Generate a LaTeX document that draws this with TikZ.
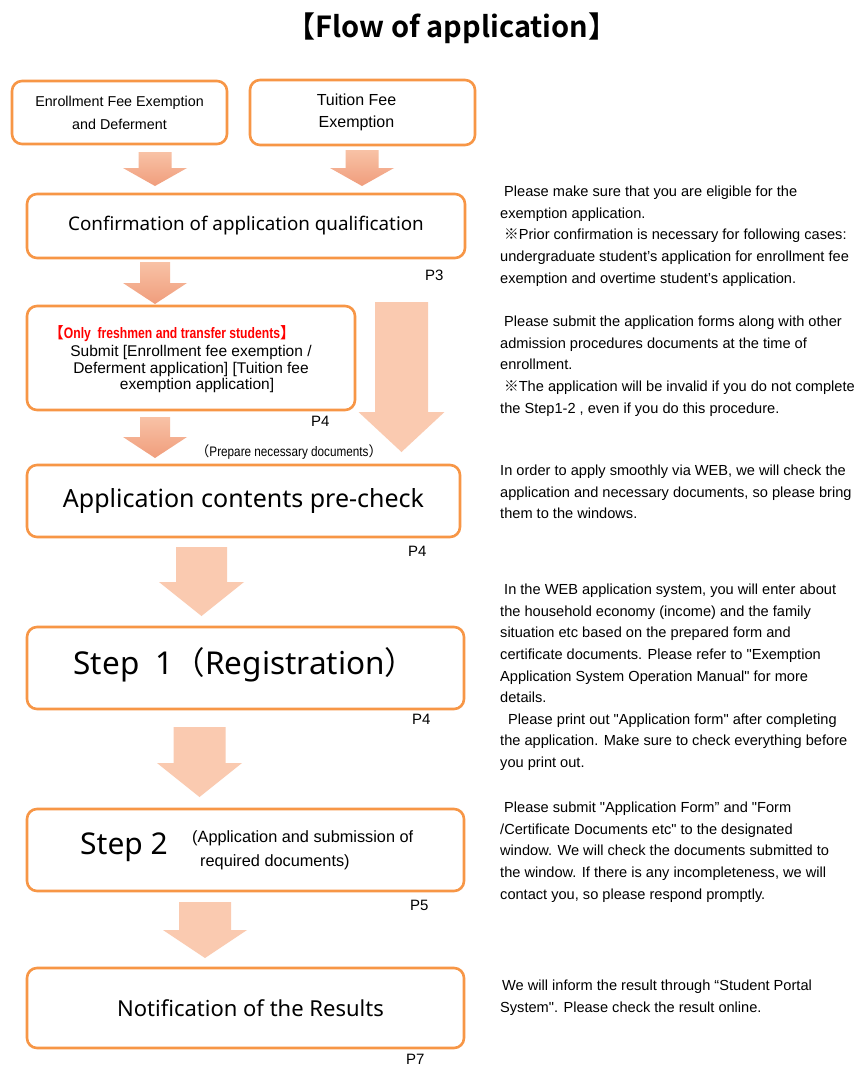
\documentclass[tikz,border=0pt]{standalone}
\usepackage{fontspec}
\setmainfont{Liberation Sans}
\newfontfamily\meiryo{Noto Sans}
\newfontfamily\cjk{Noto Sans CJK JP}
\newfontfamily\cjkbold{Noto Sans CJK JP Bold}
\newfontfamily\narrow[FakeStretch=0.85]{Liberation Sans}
\newfontfamily\narrowbold[FakeStretch=0.8]{Liberation Sans Bold}
\definecolor{boxorange}{HTML}{F79646}
\definecolor{arrtop}{HTML}{F8C2A6}
\definecolor{arrbot}{HTML}{F09D7C}
\definecolor{arrflat}{HTML}{FACAB0}
\definecolor{redtxt}{HTML}{FF0000}
\newcommand\blockarrow[7]{%
  \path[#1] (#2-#6,#3) -- (#2+#6,#3) -- (#2+#6,#4) -- (#2+#7,#4) -- (#2,#5)
    -- (#2-#7,#4) -- (#2-#6,#4) -- cycle;}
\newcommand\kome{{\cjk ※}}
\begin{document}
\begin{tikzpicture}[x=1pt,y=-1pt,
  flowbox/.style={draw=boxorange,line width=2.6pt,rounded corners=10pt,
    inner sep=0pt,align=center},
  gradarrow/.style={top color=arrtop,bottom color=arrbot,draw=none},
  flatarrow/.style={fill=arrflat,draw=none},
  pagelbl/.style={font=\fontsize{15}{15}\selectfont,inner sep=0pt,anchor=west},
  sidetext/.style={font=\fontsize{14.6}{21.6}\selectfont,inner sep=0pt,
    anchor=north west,align=left}]
\useasboundingbox (0,0) rectangle (858,1068);
\fill[white] (0,0) rectangle (858,1068);
% title
\node[inner sep=0pt,font=\cjkbold\fontsize{29}{29}\selectfont] (title) at (452,28) {【Flow of application】};
% top boxes
\node[flowbox,minimum width=215pt,minimum height=63pt,font=\fontsize{14.3}{23}\selectfont] (A) at (119.5,112.5)
  {Enrollment Fee Exemption\\ and Deferment};
\node[flowbox,minimum width=225pt,minimum height=65pt,font=\fontsize{16}{22}\selectfont] (B) at (362.5,112.5)
  {\hspace*{-12pt}Tuition Fee\\ \hspace*{-12pt}Exemption};
% arrows from top boxes
\blockarrow{gradarrow}{155}{152}{168}{186}{16.5}{32}
\blockarrow{gradarrow}{362}{150}{168}{186}{16.5}{32}
% confirmation
\node[flowbox,minimum width=438pt,minimum height=64pt,font=\meiryo\fontsize{18.8}{22}\selectfont] (C) at (246,226)
  {Confirmation of application qualification};
\node[pagelbl] (p3) at (425,275) {P3};
\blockarrow{gradarrow}{155}{262}{283}{304}{15}{32}
% freshmen box
\node[flowbox,minimum width=328pt,minimum height=104pt] (D) at (191,358) {};
\node[inner sep=0pt,text=redtxt,font=\narrowbold\fontsize{15.2}{16}\selectfont] (Dred) at (172,334)
  {{\cjkbold 【}Only\ \ freshmen and transfer students{\cjkbold 】}};
\node[inner sep=0pt,align=center,font=\fontsize{15.5}{16.8}\selectfont] (Dtxt) at (191,369)
  {Submit [Enrollment fee exemption /\\ Deferment application] [Tuition fee\\ \hspace*{12pt}exemption application]};
\node[pagelbl] (p4a) at (311,421) {P4};
\blockarrow{gradarrow}{155}{417}{437}{458}{15}{32}
% big right arrow
\blockarrow{flatarrow}{401.5}{302}{412}{452}{26.5}{43}
\node[inner sep=0pt,font=\narrow\fontsize{13.8}{13.8}\selectfont] (prep) at (289,452)
  {{\cjk （}Prepare necessary documents{\cjk ）}};
% pre-check
\node[flowbox,minimum width=433pt,minimum height=72pt,font=\meiryo\fontsize{25}{25}\selectfont] (E) at (243.5,501)
  {Application contents pre-check};
\node[pagelbl] (p4b) at (408,551) {P4};
\blockarrow{flatarrow}{201.5}{547}{582}{616}{25.5}{42.5}
% step 1
\node[flowbox,minimum width=437pt,minimum height=82pt] (F) at (245.5,668) {};
\node[inner sep=0pt,font=\meiryo\fontsize{31.5}{31.5}\selectfont] (Ftxt) at (236,665)
  {\hspace*{18pt}Step\ \ 1{\cjk （}Registration{\cjk ）}};
\node[pagelbl] (p4c) at (412,719) {P4};
\blockarrow{flatarrow}{199.5}{727}{763}{797}{26}{42.5}
% step 2
\node[flowbox,minimum width=437pt,minimum height=82pt] (G) at (245.5,850) {};
\node[inner sep=0pt,anchor=west,font=\meiryo\fontsize{30}{30}\selectfont] (Gstep) at (80,847) {Step\ 2};
\node[inner sep=0pt,anchor=west,align=left,font=\fontsize{16.3}{24}\selectfont] (Gsub) at (192,850)
  {(Application and submission of\\ \hspace*{8pt}required documents)};
\node[pagelbl] (p5) at (410,905) {P5};
\blockarrow{flatarrow}{205}{902}{930}{958}{26}{42}
% results
\node[flowbox,minimum width=437pt,minimum height=80pt,font=\meiryo\fontsize{22}{22}\selectfont] (H) at (245.5,1008)
  {\hspace*{10pt}Notification of the Results};
\node[pagelbl] (p7) at (406,1059) {P7};
% side texts
\node[sidetext] (t1) at (500,186)
  {\hspace*{4pt}Please make sure that you are eligible for the\\
   exemption application.\\
   \hspace*{4pt}\kome Prior confirmation is necessary for following cases:\\
   undergraduate student’s application for enrollment fee\\
   exemption and overtime student’s application.};
\node[sidetext] (t2) at (500,316)
  {\hspace*{4pt}Please submit the application forms along with other\\
   admission procedures documents at the time of\\
   enrollment.\\
   \hspace*{4pt}\kome The application will be invalid if you do not complete\\
   the Step1-2 , even if you do this procedure.};
\node[sidetext] (t3) at (500,465)
  {In order to apply smoothly via WEB, we will check the\\
   application and necessary documents, so please bring\\
   them to the windows.};
\node[sidetext] (t4) at (500,584)
  {\hspace*{4pt}In the WEB application system, you will enter about\\
   the household economy (income) and the family\\
   situation etc based on the prepared form and\\
   certificate documents. Please refer to \textquotedbl Exemption\\
   Application System Operation Manual\textquotedbl\ for more\\
   details.\\
   \hspace*{8pt}Please print out \textquotedbl Application form\textquotedbl\ after completing\\
   the application. Make sure to check everything before\\
   you print out.};
\node[sidetext] (t5) at (500,802)
  {\hspace*{4pt}Please submit \textquotedbl Application Form” and \textquotedbl Form\\
   /Certificate Documents etc\textquotedbl\ to the designated\\
   window. We will check the documents submitted to\\
   the window. If there is any incompleteness, we will\\
   contact you, so please respond promptly.};
\node[sidetext] (t6) at (500,980)
  {\hspace*{2pt}We will inform the result through “Student Portal\\
   System\textquotedbl. Please check the result online.};
\end{tikzpicture}
\end{document}
